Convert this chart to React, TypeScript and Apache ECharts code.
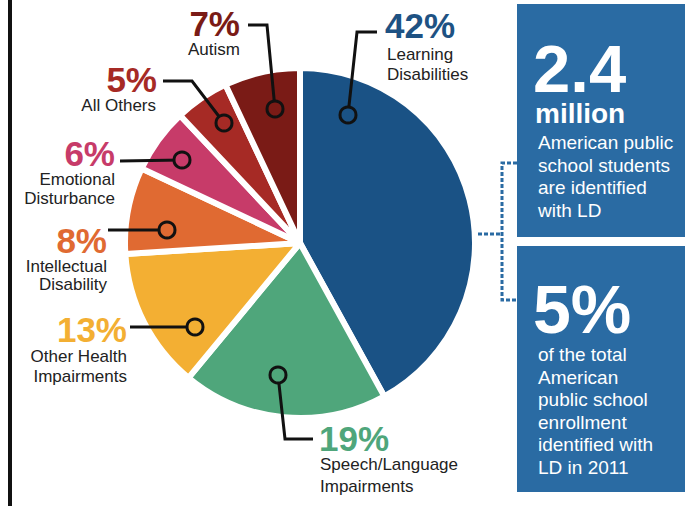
import React, { useEffect, useRef } from "react";
import * as echarts from "echarts";

const categories = [
  "Learning Disabilities",
  "Speech/Language Impairments",
  "Other Health Impairments",
  "Intellectual Disability",
  "Emotional Disturbance",
  "All Others",
  "Autism",
];
const shares = [42, 19, 13, 8, 6, 5, 7];
const sliceColors = ["#1a5285", "#4fa67b", "#f3af33", "#e06a32", "#c73b69", "#a62a25", "#7a1b16"];
const percentColors = ["#1e5283", "#4fa67b", "#f3af33", "#e06a32", "#c73b69", "#a62a25", "#7a1b16"];
const labelLines = [
  ["Learning", "Disabilities"],
  ["Speech/Language", "Impairments"],
  ["Other Health", "Impairments"],
  ["Intellectual", "Disability"],
  ["Emotional", "Disturbance"],
  ["All Others"],
  ["Autism"],
];
// label layout (annotation positions)
const labelAnchors = [
  { x: 385, y: 25, align: "left", lineY: [54, 74], lx: 387 },
  { x: 319, y: 438, align: "left", lineY: [464, 486], lx: 320 },
  { x: 127, y: 329, align: "right", lineY: [356, 376], lx: 127 },
  { x: 107, y: 240, align: "right", lineY: [266, 284], lx: 107 },
  { x: 115, y: 153, align: "right", lineY: [179, 198], lx: 115 },
  { x: 157, y: 79, align: "right", lineY: [105], lx: 156 },
  { x: 240, y: 23, align: "right", lineY: [49], lx: 240 },
];
const leaders = [
  [[348, 115], [357, 32], [377, 32]],
  [[278, 375], [285, 439], [313, 439]],
  [[195, 327], [130, 327]],
  [[167, 230], [108, 230]],
  [[182, 160], [120, 161]],
  [[224, 123], [192, 81], [163, 81]],
  [[275, 109], [267, 25], [248, 25]],
];

const boxTop = { big: "2.4", sub: "million", lines: ["American public", "school students", "are identified", "with LD"] };
const boxBottom = { big: "5%", lines: ["of the total", "American", "public school", "enrollment", "identified with", "LD in 2011"] };

const FONT = '"Liberation Sans", Arial, Helvetica, sans-serif';
const BOX_BLUE = "#2a6ba3";

function txt(text: string, x: number, y: number, size: number, color: string, weight: string, align: string) {
  return {
    type: "text",
    silent: true,
    style: {
      text,
      x,
      y,
      fill: color,
      fontSize: size,
      fontWeight: weight,
      fontFamily: FONT,
      lineHeight: Math.round(size * 0.9),
      align,
      verticalAlign: "middle",
      textAlign: align,
      textVerticalAlign: "middle",
    },
  };
}

export default function App() {
  const ref = useRef<HTMLDivElement>(null);
  useEffect(() => {
    if (!ref.current) return;
    const chart = echarts.init(ref.current, null, { renderer: "svg" });
    const graphics: any[] = [];
    // left black rule
    graphics.push({ type: "rect", silent: true, shape: { x: 8, y: 0, width: 4, height: 506 }, style: { fill: "#111" } });
    // blue boxes
    graphics.push({ type: "rect", silent: true, shape: { x: 517, y: 4, width: 168, height: 233 }, style: { fill: BOX_BLUE } });
    graphics.push({ type: "rect", silent: true, shape: { x: 517, y: 246, width: 168, height: 246 }, style: { fill: BOX_BLUE } });
    // dashed connector
    const dash = { stroke: BOX_BLUE, lineWidth: 3, lineDash: [4, 2], fill: null };
    graphics.push({ type: "polyline", silent: true, shape: { points: [[517, 163], [502, 163], [502, 300], [517, 300]] }, style: dash });
    graphics.push({ type: "line", silent: true, shape: { x1: 478, y1: 234, x2: 502, y2: 234 }, style: dash });
    // box texts
    graphics.push(txt(boxTop.big, 533, 68, 67, "#fff", "bold", "left"));
    graphics.push(txt(boxTop.sub, 535, 113, 28, "#fff", "bold", "left"));
    boxTop.lines.forEach((l, i) => graphics.push(txt(l, 538, 142.5 + i * 22.7, 19, "#fff", "normal", "left")));
    graphics.push(txt(boxBottom.big, 533, 309, 68, "#fff", "bold", "left"));
    boxBottom.lines.forEach((l, i) => graphics.push(txt(l, 538, 354.5 + i * 22.6, 19, "#fff", "normal", "left")));
    // labels and leaders
    categories.forEach((c, i) => {
      const a = labelAnchors[i];
      graphics.push(txt(shares[i] + "%", a.x, a.y, 35, percentColors[i], "bold", a.align));
      labelLines[i].forEach((l, j) => graphics.push(txt(l, a.lx, a.lineY[j], 17, "#222", "normal", a.align)));
      const pts = leaders[i];
      graphics.push({
        type: "polyline",
        silent: true,
        z: 10,
        shape: { points: pts },
        style: { stroke: "#111", lineWidth: 3, fill: null },
      });
      graphics.push({
        type: "circle",
        silent: true,
        z: 11,
        shape: { cx: pts[0][0], cy: pts[0][1], r: 8 },
        style: { fill: sliceColors[i], stroke: "#111", lineWidth: 3 },
      });
    });

    chart.setOption({
      animation: false,
      backgroundColor: "#fff",
      series: [
        {
          type: "pie",
          center: [300, 243],
          radius: 175,
          startAngle: 90,
          clockwise: true,
          silent: true,
          label: { show: false },
          labelLine: { show: false },
          itemStyle: { borderColor: "#fff", borderWidth: 6 },
          emphasis: { disabled: true },
          data: categories.map((name, i) => ({ name, value: shares[i], itemStyle: { color: sliceColors[i] } })),
          z: 1,
        },
      ],
      graphic: { elements: graphics },
    });
    return () => chart.dispose();
  }, []);
  return <div ref={ref} style={{ position: "fixed", left: 0, top: 0, width: 685, height: 506 }} />;
}
